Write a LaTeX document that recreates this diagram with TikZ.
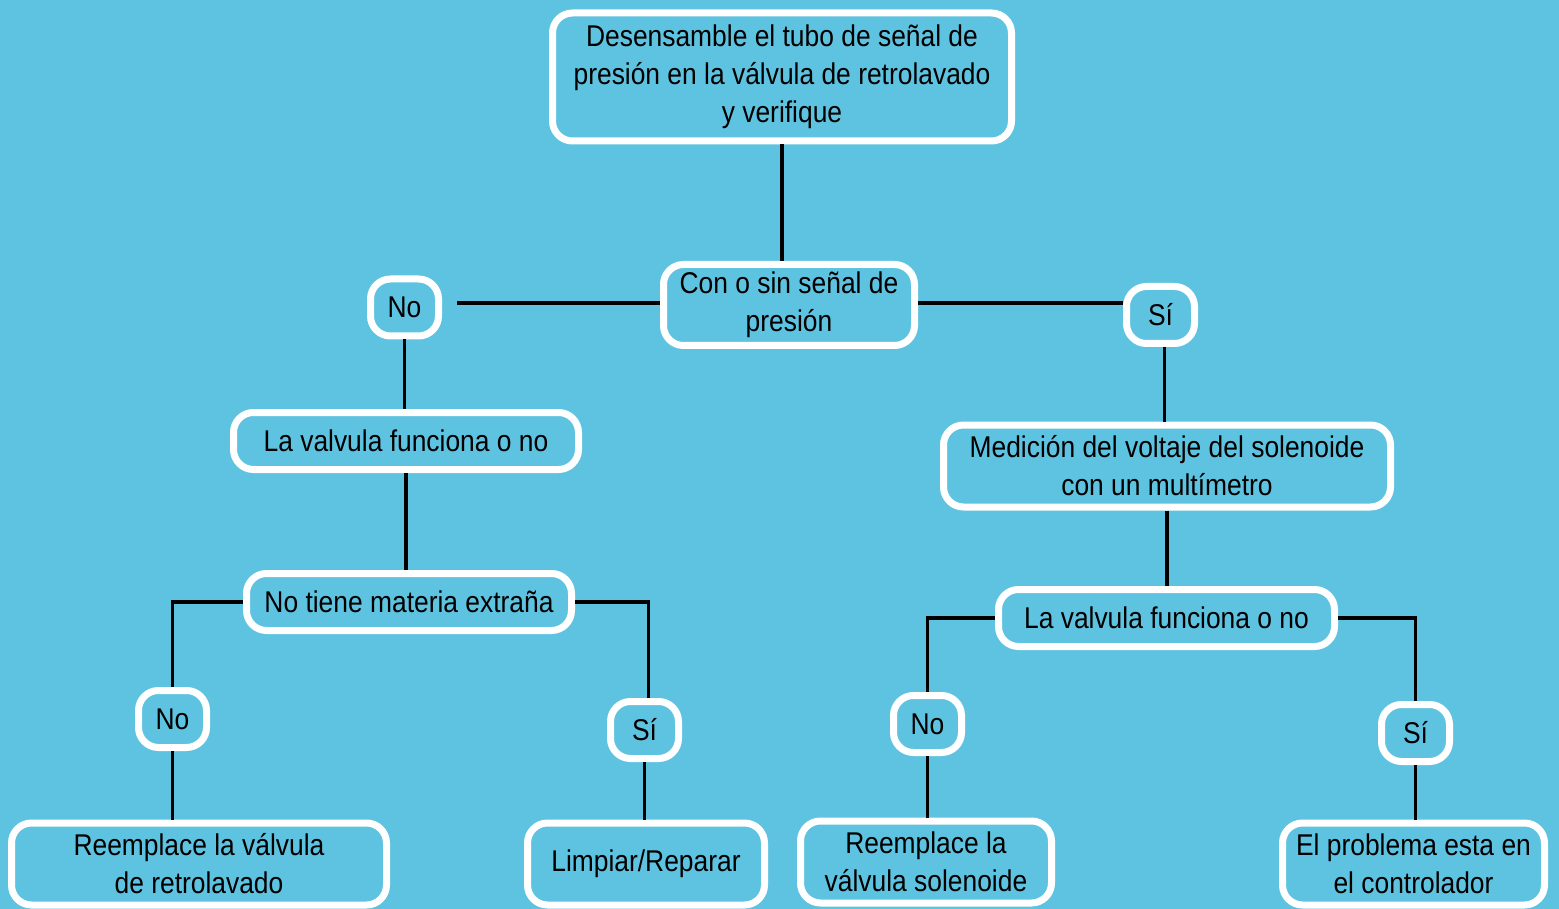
\documentclass[tikz,border=0pt]{standalone}
\usepackage{fontspec}
\setmainfont{Liberation Sans}[FakeStretch=0.88]
\usetikzlibrary{positioning,calc}
\definecolor{bgblue}{HTML}{5EC3E0}
\tikzset{
 box/.style={draw=white,line width=3.5pt,rounded corners=10pt,fill=bgblue,
             align=center,inner sep=0pt,font=\fontsize{15}{19}\selectfont},
 tag/.style={box,minimum width=34pt,minimum height=28.5pt},
 link/.style={line width=1.8pt,black},
}

\begin{document}
\begin{tikzpicture}[x=0.5pt,y=-0.5pt]
\fill[bgblue] (0,0) rectangle (1559,909);
\useasboundingbox (0,0) rectangle (1559,909);
\node[box,minimum width=229.5pt,minimum height=64pt] (top) at (782,77)
 {Desensamble el tubo de señal de\\presión en la válvula de retrolavado\\y verifique};
\node[box,minimum width=125.5pt,minimum height=40.5pt] (con) at (789,305) {Con o sin señal de\\presión};
\node[tag] (noA) at (404.5,307.5) {No};
\node[tag] (siA) at (1160.5,315) {Sí};
\node[box,minimum width=172.5pt,minimum height=28.5pt] (valL) at (406,441) {La valvula funciona o no};
\node[box,minimum width=223.5pt,minimum height=41pt] (med) at (1167,466) {Medición del voltaje del solenoide\\con un multímetro};
\node[box,minimum width=162.5pt,minimum height=28.5pt] (mat) at (409,602) {No tiene materia extraña};
\node[box,minimum width=168pt,minimum height=28.5pt] (valR) at (1166.5,618) {La valvula funciona o no};
\node[tag] (noB) at (172.5,719) {No};
\node[tag] (siB) at (644.5,730) {Sí};
\node[tag] (noC) at (927.5,724) {No};
\node[tag] (siC) at (1415.5,733) {Sí};
\node[box,minimum width=187.5pt,minimum height=41pt] (reA) at (199,864) {Reemplace la válvula\\de retrolavado};
\node[box,minimum width=118.5pt,minimum height=41pt] (lim) at (646,864) {Limpiar/Reparar};
\node[box,minimum width=125.5pt,minimum height=41pt] (reS) at (926,862) {Reemplace la\\válvula solenoide};
\node[box,minimum width=131pt,minimum height=41pt] (prob) at (1413.5,864) {El problema esta en\\el controlador};
\coordinate (gapA) at (457,303);

% connectors
\draw[link] (top.south) -- (top.south |- con.north);
\draw[link] (con.west |- gapA) -- (gapA);
\draw[link] (con.east |- gapA) -- (gapA -| siA.west);
\draw[link] (noA.south) -- (noA.south |- valL.north);
\draw[link] ([xshift=2pt]siA.south) -- ([xshift=2pt]siA.south |- med.north);
\draw[link] (valL.south) -- (valL.south |- mat.north);
\draw[link] (med.south) -- (med.south |- valR.north);
\draw[link] (mat.west) -| (noB.north);
\draw[link] (mat.east) -| ([xshift=2pt]siB.north);
\draw[link] (valR.west) -| (noC.north);
\draw[link] (valR.east) -| (siC.north);
\draw[link] (noB.south) -- (noB.south |- reA.north);
\draw[link] (siB.south) -- (siB.south |- lim.north);
\draw[link] (noC.south) -- (noC.south |- reS.north);
\draw[link] (siC.south) -- (siC.south |- prob.north);
\end{tikzpicture}
\end{document}
